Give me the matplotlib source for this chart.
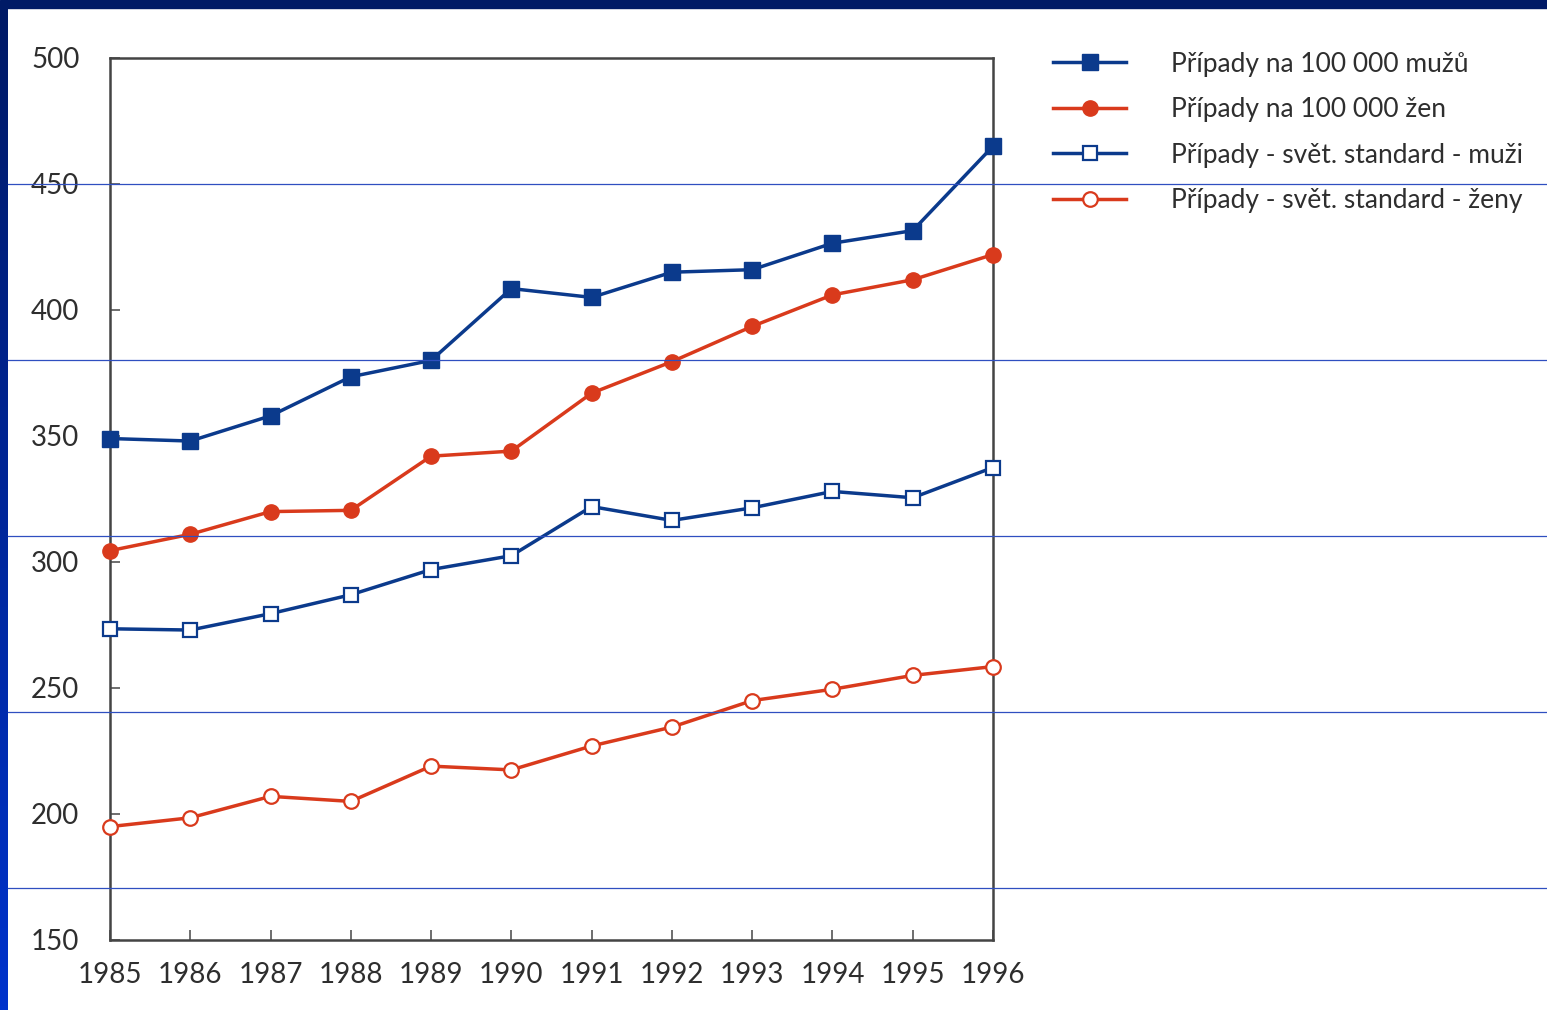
import numpy as np
import matplotlib.pyplot as plt
from matplotlib.lines import Line2D
from matplotlib.patches import Rectangle
from matplotlib.colors import LinearSegmentedColormap

plt.rcParams['font.family'] = ['Lato', 'DejaVu Sans']

years = list(range(1985, 1997))
muzi = [349, 348, 358, 373.5, 380, 408.5, 405, 415, 416, 426.5, 431.5, 465]
zeny = [304.5, 311, 320, 320.5, 342, 344, 367, 379.5, 393.5, 406, 412, 422]
muzi_std = [273.5, 273, 279.5, 287, 297, 302.5, 322, 316.5, 321.5, 328, 325.5, 337.5]
zeny_std = [195, 198.5, 207, 205, 219, 217.5, 227, 234.5, 245, 249.5, 255, 258.5]
labels = ['Případy na 100 000 mužů', 'Případy na 100 000 žen',
          'Případy - svět. standard - muži', 'Případy - svět. standard - ženy']

blue = '#0b3a8c'
red = '#d93a1c'
txt = '#2e2e2e'

W, H = 1547, 1010
fig = plt.figure(figsize=(W / 100, H / 100), dpi=100)
fig.patch.set_facecolor('white')

ax = fig.add_axes([110 / W, 1 - 940 / H, 883 / W, 882 / H])
ax.plot(years, muzi, color=blue, lw=2.5, marker='s', ms=11, mfc=blue, mec=blue,
        clip_on=False, label=labels[0], zorder=5)
ax.plot(years, zeny, color=red, lw=2.5, marker='o', ms=11, mfc=red, mec=red,
        clip_on=False, label=labels[1], zorder=5)
ax.plot(years, muzi_std, color=blue, lw=2.5, marker='s', ms=10.5, mfc='white', mec=blue,
        mew=1.6, clip_on=False, label=labels[2], zorder=5)
ax.plot(years, zeny_std, color=red, lw=2.5, marker='o', ms=10.5, mfc='white', mec=red,
        mew=1.6, clip_on=False, label=labels[3], zorder=5)

ax.set_xlim(1985, 1996)
ax.set_ylim(150, 500)
ax.set_xticks(years)
ax.set_yticks(range(150, 501, 50))
ax.tick_params(direction='in', length=7, width=1.2, color='#555555',
               labelsize=20, labelcolor=txt)
ax.tick_params(axis='x', pad=16)
ax.tick_params(axis='y', pad=22)
for s in ax.spines.values():
    s.set_color('#444444')
    s.set_linewidth(1.8)

fig.legend(loc='upper left', bbox_to_anchor=(1042 / W, 1 - 41 / H), frameon=False,
           fontsize=19, labelcolor=txt, handlelength=2.8, handletextpad=1.7,
           labelspacing=0.78, borderaxespad=0)

# slide decoration: top band, left band and thin horizontal rules
fig.add_artist(Rectangle((0, 1 - 8 / H), 1, 8 / H, transform=fig.transFigure,
                         color='#001a66', zorder=10))
gax = fig.add_axes([0, 0, 8 / W, 1 - 8 / H])
grad = np.linspace(0, 1, 256).reshape(-1, 1)
cmap = LinearSegmentedColormap.from_list('band', ['#001a66', '#0033cc'])
gax.imshow(grad, aspect='auto', cmap=cmap, extent=[0, 1, 0, 1], origin='upper')
gax.set_axis_off()
for yp in [184, 360, 536, 712, 888]:
    fig.add_artist(Line2D([8 / W, 1], [1 - yp / H, 1 - yp / H], transform=fig.transFigure,
                          color='#2f4fc0', lw=0.9, zorder=20))

fig.savefig('out.png', dpi=100)
